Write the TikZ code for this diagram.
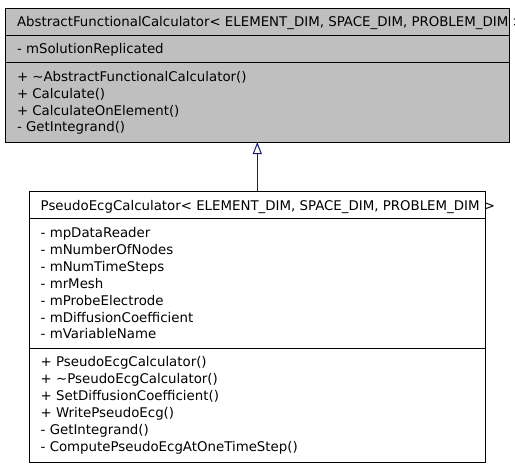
\documentclass[tikz,border=0pt]{standalone}
\usepackage{fontspec}
\setmainfont{DejaVu Sans}
\usetikzlibrary{arrows.meta}
\tikzset{
  txt/.style={anchor=base west, inner sep=0pt, outer sep=0pt, font=\fontsize{13.35}{15}\selectfont},
  boxline/.style={draw=black, line width=1pt},
  inherit/.style={draw={rgb,255:red,25;green,25;blue,112}, line width=1pt, -{Triangle[open, length=12pt, width=9pt, fill=white]}}
}
\begin{document}
\begin{tikzpicture}[x=1pt,y=-1pt]
\useasboundingbox (0,0) rectangle (515,467);
\clip (0,0) rectangle (515,467);
% top class
\path[boxline, fill={rgb,255:red,191;green,191;blue,191}] (5,8) rectangle (509,142);
\draw[boxline] (5,35) -- (509,35);
\draw[boxline] (5,62) -- (509,62);
\coordinate (topbot) at (257.3,142);
\node[txt] (ah) at (17,26) {AbstractFunctionalCalculator< ELEMENT\_DIM, SPACE\_DIM, PROBLEM\_DIM >};
\node[txt] (aa1) at (17,53) {- mSolutionReplicated};
\node[txt] (am1) at (17,81.7) {+ \textasciitilde AbstractFunctionalCalculator()};
\node[txt] (am2) at (17,98.4) {+ Calculate()};
\node[txt] (am3) at (17,115.1) {+ CalculateOnElement()};
\node[txt] (am4) at (17,131.8) {- GetIntegrand()};
% bottom class
\path[boxline, fill=white] (29.3,191) rectangle (485,462.3);
\draw[boxline] (29.3,218.3) -- (485,218.3);
\draw[boxline] (29.3,348.3) -- (485,348.3);
\coordinate (botop) at (257.3,191);
\node[txt] (bh) at (40.7,210) {PseudoEcgCalculator< ELEMENT\_DIM, SPACE\_DIM, PROBLEM\_DIM >};
\node[txt] (ba1) at (40.7,237.5) {- mpDataReader};
\node[txt] (ba2) at (40.7,254.4) {- mNumberOfNodes};
\node[txt] (ba3) at (40.7,271.3) {- mNumTimeSteps};
\node[txt] (ba4) at (40.7,288.2) {- mrMesh};
\node[txt] (ba5) at (40.7,305.1) {- mProbeElectrode};
\node[txt] (ba6) at (40.7,322.0) {- mDiffusionCoefficient};
\node[txt] (ba7) at (40.7,338.9) {- mVariableName};
\node[txt] (bm1) at (40.7,366.7) {+ PseudoEcgCalculator()};
\node[txt] (bm2) at (40.7,383.7) {+ \textasciitilde PseudoEcgCalculator()};
\node[txt] (bm3) at (40.7,400.7) {+ SetDiffusionCoefficient()};
\node[txt] (bm4) at (40.7,417.7) {+ WritePseudoEcg()};
\node[txt] (bm5) at (40.7,434.7) {- GetIntegrand()};
\node[txt] (bm6) at (40.7,451.7) {- ComputePseudoEcgAtOneTimeStep()};
% inheritance
\draw[inherit] (botop) -- (topbot);
\end{tikzpicture}
\end{document}
